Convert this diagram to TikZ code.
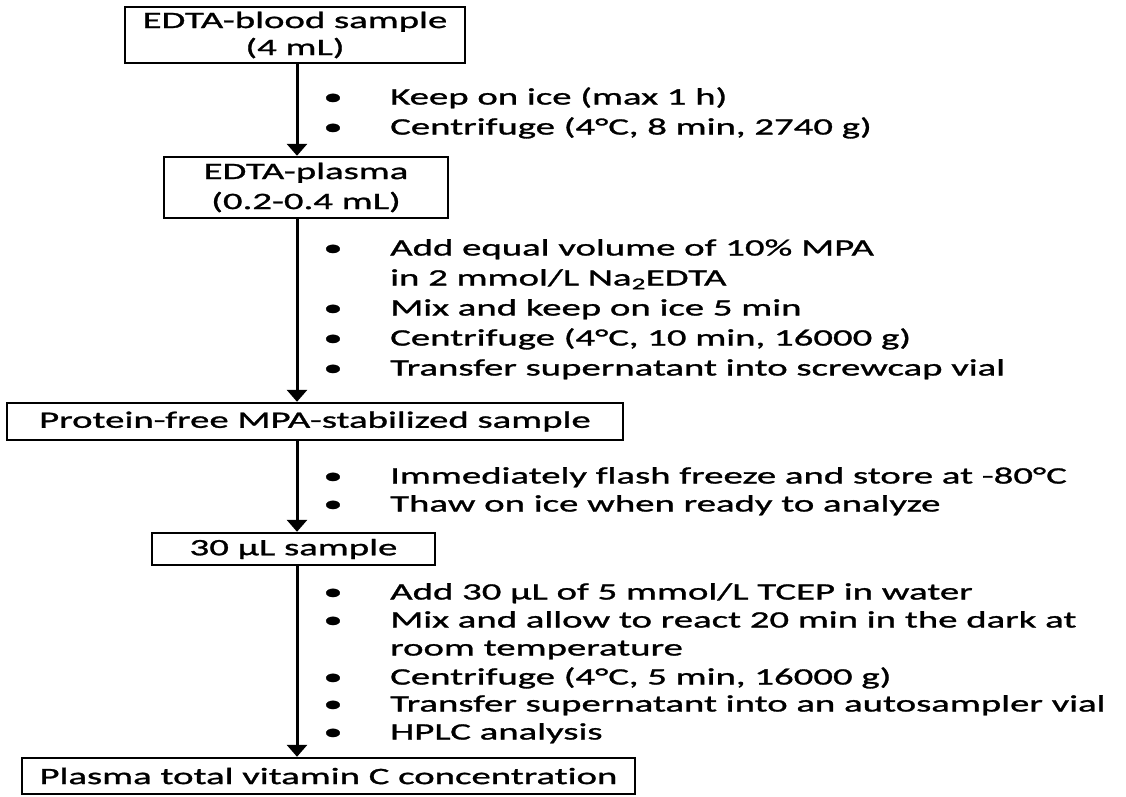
\documentclass[tikz,border=0pt]{standalone}
\usepackage{fontspec}
\setmainfont{Carlito}[FakeStretch=1.65, FakeBold=1.2, Ligatures=NoCommon]
\usetikzlibrary{arrows.meta}
\newcommand{\txtfont}{\fontsize{23.5}{28}\selectfont}
\newcommand{\dg}{°}
\tikzset{
  stepbox/.style={draw, line width=2.4pt, inner sep=0pt, align=center},
  flow/.style={line width=3pt, -{Triangle[width=20pt,length=12pt]}},
  bul/.style={anchor=base, inner sep=0pt, font=\txtfont},
  txt/.style={anchor=base west, inner sep=0pt, font=\txtfont}
}
\begin{document}
\begin{tikzpicture}[x=1pt,y=-1pt]
\useasboundingbox[fill=white] (0,0) rectangle (1126,796);
% boxes
\node[stepbox, minimum width=340pt, minimum height=56pt, font=\fontsize{23.5}{27}\selectfont] (b1) at (295,35) {EDTA-blood sample\\(4 mL)};
\node[stepbox, minimum width=284pt, minimum height=61pt, font=\fontsize{23.5}{30}\selectfont] (b2) at (306,187.5) {EDTA-plasma\\(0.2-0.4 mL)};
\node[stepbox, minimum width=616pt, minimum height=37pt, font=\txtfont] (b3) at (315,421.5) {Protein-free MPA-stabilized sample};
\node[stepbox, minimum width=283pt, minimum height=32pt, font=\txtfont] (b4) at (293.5,549) {30 µL sample};
\node[stepbox, minimum width=613pt, minimum height=36pt, font=\txtfont] (b5) at (328.5,776) {Plasma total vitamin C concentration};
% connectors
\coordinate (ax) at (297,0);
\draw[flow] (b1.south -| ax) -- (b2.north -| ax);
\draw[flow] (b2.south -| ax) -- (b3.north -| ax);
\draw[flow] (b3.south -| ax) -- (b4.north -| ax);
\draw[flow] (b4.south -| ax) -- (b5.north -| ax);
% step texts
\foreach \nm/\yy/\tx in {
  ta/97/{Keep on ice (max 1 h)},
  tb/127/{Centrifuge (4\dg C, 8 min, 2740 g)},
  tc/248/{Add equal volume of 10\% MPA},
  td/278/{in 2 mmol/L Na\textsubscript{2}EDTA},
  te/308/{Mix and keep on ice 5 min},
  tf/338/{Centrifuge (4\dg C, 10 min, 16000 g)},
  tg/368/{Transfer supernatant into screwcap vial},
  th/476/{Immediately flash freeze and store at -80\dg C},
  ti/504/{Thaw on ice when ready to analyze},
  tj/592/{Add 30 µL of 5 mmol/L TCEP in water},
  tk/620/{Mix and allow to react 20 min in the dark at},
  tl/648/{room temperature},
  tm/677/{Centrifuge (4\dg C, 5 min, 16000 g)},
  tn/704/{Transfer supernatant into an autosampler vial},
  to/732/{HPLC analysis}}
  {\node[txt] (\nm) at (390,\yy+7.5) {\tx};}
% bullets
\foreach \nm/\yy in {ua/97, ub/127, uc/248, ue/308, uf/338, ug/368, uh/476, ui/504, uj/592, uk/620, um/677, un/704, uo/732}
  {\node[bul] (\nm) at (333,\yy+7.5) {•};}
\end{tikzpicture}
\end{document}
